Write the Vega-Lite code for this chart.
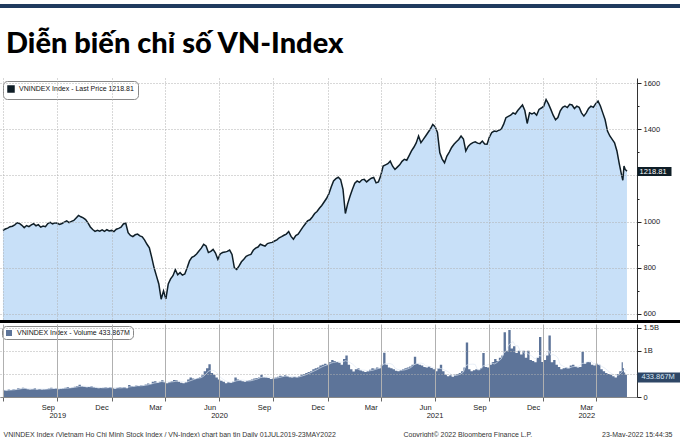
{
  "$schema": "https://vega.github.io/schema/vega-lite/v6.json",
  "padding": {"left": 0, "top": 4, "right": 0, "bottom": 0},
  "autosize": {"type": "pad"},
  "background": "#ffffff",
  "config": {
    "view": {"stroke": null},
    "font": "Liberation Sans, sans-serif",
    "axis": {"labelFont": "Liberation Sans, sans-serif", "titleFont": "Liberation Sans, sans-serif", "labelFontSize": 7.5, "labelColor": "#222222", "titleFontSize": 7, "titleFontWeight": "normal", "titleColor": "#333333"},
    "legend": {"labelFont": "Liberation Sans, sans-serif", "labelFontSize": 7, "labelColor": "#111111"}
  },
  "datasets": {
    "px": [
      {"d":"2019-07-01","p":962,"v":150},{"d":"2019-07-05","p":968,"v":140},{"d":"2019-07-09","p":972,"v":160},{"d":"2019-07-13","p":978,"v":150},
      {"d":"2019-07-17","p":980,"v":170},{"d":"2019-07-21","p":986,"v":165},{"d":"2019-07-25","p":995,"v":190},{"d":"2019-07-29","p":992,"v":180},
      {"d":"2019-08-02","p":984,"v":200},{"d":"2019-08-06","p":974,"v":190},{"d":"2019-08-10","p":983,"v":170},{"d":"2019-08-14","p":978,"v":160},
      {"d":"2019-08-18","p":986,"v":170},{"d":"2019-08-22","p":991,"v":190},{"d":"2019-08-26","p":982,"v":165},{"d":"2019-08-30","p":987,"v":175},
      {"d":"2019-09-03","p":976,"v":160},{"d":"2019-09-07","p":981,"v":170},{"d":"2019-09-11","p":978,"v":175},{"d":"2019-09-15","p":992,"v":185},
      {"d":"2019-09-19","p":997,"v":200},{"d":"2019-09-23","p":990,"v":180},{"d":"2019-09-27","p":995,"v":190},{"d":"2019-10-01","p":993,"v":170},
      {"d":"2019-10-05","p":988,"v":180},{"d":"2019-10-09","p":992,"v":190},{"d":"2019-10-13","p":998,"v":200},{"d":"2019-10-17","p":1003,"v":215},
      {"d":"2019-10-21","p":996,"v":195},{"d":"2019-10-25","p":1001,"v":205},{"d":"2019-10-29","p":1005,"v":220},{"d":"2019-11-02","p":1016,"v":240},
      {"d":"2019-11-06","p":1027,"v":265},{"d":"2019-11-10","p":1021,"v":230},{"d":"2019-11-14","p":1016,"v":220},{"d":"2019-11-18","p":1009,"v":210},
      {"d":"2019-11-22","p":995,"v":215},{"d":"2019-11-26","p":977,"v":230},{"d":"2019-11-30","p":966,"v":210},{"d":"2019-12-04","p":958,"v":200},
      {"d":"2019-12-08","p":962,"v":190},{"d":"2019-12-12","p":959,"v":195},{"d":"2019-12-16","p":964,"v":200},{"d":"2019-12-20","p":958,"v":210},
      {"d":"2019-12-24","p":965,"v":200},{"d":"2019-12-28","p":960,"v":215},{"d":"2020-01-01","p":962,"v":190},{"d":"2020-01-05","p":957,"v":180},
      {"d":"2020-01-09","p":967,"v":200},{"d":"2020-01-13","p":971,"v":210},{"d":"2020-01-17","p":976,"v":205},{"d":"2020-01-21","p":990,"v":215},
      {"d":"2020-01-25","p":993,"v":190},{"d":"2020-01-29","p":952,"v":260},{"d":"2020-02-02","p":940,"v":240},{"d":"2020-02-06","p":935,"v":230},
      {"d":"2020-02-10","p":943,"v":250},{"d":"2020-02-14","p":946,"v":240},{"d":"2020-02-18","p":938,"v":255},{"d":"2020-02-22","p":934,"v":250},
      {"d":"2020-02-26","p":920,"v":270},{"d":"2020-03-01","p":902,"v":290},{"d":"2020-03-05","p":887,"v":280},{"d":"2020-03-09","p":845,"v":330},
      {"d":"2020-03-13","p":800,"v":340},{"d":"2020-03-17","p":765,"v":310},{"d":"2020-03-21","p":730,"v":330},{"d":"2020-03-25","p":664,"v":360},
      {"d":"2020-03-29","p":700,"v":320},{"d":"2020-04-02","p":665,"v":300},{"d":"2020-04-06","p":730,"v":320},{"d":"2020-04-10","p":752,"v":340},
      {"d":"2020-04-14","p":766,"v":370},{"d":"2020-04-18","p":792,"v":360},{"d":"2020-04-22","p":770,"v":330},{"d":"2020-04-26","p":779,"v":310},
      {"d":"2020-04-30","p":768,"v":300},{"d":"2020-05-04","p":773,"v":320},{"d":"2020-05-08","p":800,"v":380},{"d":"2020-05-12","p":830,"v":420},
      {"d":"2020-05-16","p":845,"v":400},{"d":"2020-05-20","p":851,"v":390},{"d":"2020-05-24","p":860,"v":410},{"d":"2020-05-28","p":873,"v":430},
      {"d":"2020-06-01","p":885,"v":470},{"d":"2020-06-05","p":902,"v":560},{"d":"2020-06-09","p":895,"v":620},{"d":"2020-06-13","p":866,"v":710},
      {"d":"2020-06-17","p":871,"v":520},{"d":"2020-06-21","p":880,"v":480},{"d":"2020-06-25","p":864,"v":420},{"d":"2020-06-29","p":837,"v":380},
      {"d":"2020-07-03","p":860,"v":350},{"d":"2020-07-07","p":866,"v":330},{"d":"2020-07-11","p":868,"v":300},{"d":"2020-07-15","p":871,"v":320},
      {"d":"2020-07-19","p":877,"v":310},{"d":"2020-07-23","p":858,"v":330},{"d":"2020-07-27","p":800,"v":420},{"d":"2020-07-31","p":793,"v":380},
      {"d":"2020-08-04","p":808,"v":360},{"d":"2020-08-08","p":826,"v":340},{"d":"2020-08-12","p":837,"v":330},{"d":"2020-08-16","p":850,"v":350},
      {"d":"2020-08-20","p":855,"v":360},{"d":"2020-08-24","p":858,"v":380},{"d":"2020-08-28","p":876,"v":400},{"d":"2020-09-01","p":885,"v":410},
      {"d":"2020-09-05","p":890,"v":420},{"d":"2020-09-09","p":902,"v":480},{"d":"2020-09-13","p":898,"v":430},{"d":"2020-09-17","p":894,"v":420},
      {"d":"2020-09-21","p":905,"v":410},{"d":"2020-09-25","p":908,"v":390},{"d":"2020-09-29","p":910,"v":400},{"d":"2020-10-03","p":916,"v":420},
      {"d":"2020-10-07","p":921,"v":440},{"d":"2020-10-11","p":930,"v":460},{"d":"2020-10-15","p":935,"v":450},{"d":"2020-10-19","p":941,"v":470},
      {"d":"2020-10-23","p":946,"v":450},{"d":"2020-10-27","p":957,"v":430},{"d":"2020-10-31","p":936,"v":420},{"d":"2020-11-04","p":924,"v":440},
      {"d":"2020-11-08","p":940,"v":430},{"d":"2020-11-12","p":946,"v":450},{"d":"2020-11-16","p":961,"v":480},{"d":"2020-11-20","p":976,"v":500},
      {"d":"2020-11-24","p":990,"v":520},{"d":"2020-11-28","p":1003,"v":540},{"d":"2020-12-02","p":1008,"v":560},{"d":"2020-12-06","p":1020,"v":600},
      {"d":"2020-12-10","p":1035,"v":620},{"d":"2020-12-14","p":1044,"v":640},{"d":"2020-12-18","p":1058,"v":680},{"d":"2020-12-22","p":1070,"v":700},
      {"d":"2020-12-26","p":1085,"v":720},{"d":"2020-12-30","p":1100,"v":700},{"d":"2021-01-03","p":1120,"v":750},{"d":"2021-01-07","p":1150,"v":800},
      {"d":"2021-01-11","p":1176,"v":780},{"d":"2021-01-15","p":1186,"v":760},{"d":"2021-01-19","p":1192,"v":740},{"d":"2021-01-23","p":1182,"v":700},
      {"d":"2021-01-27","p":1140,"v":820},{"d":"2021-01-31","p":1035,"v":900},{"d":"2021-02-04","p":1078,"v":700},{"d":"2021-02-08","p":1111,"v":600},
      {"d":"2021-02-12","p":1140,"v":550},{"d":"2021-02-16","p":1166,"v":600},{"d":"2021-02-20","p":1176,"v":620},{"d":"2021-02-24","p":1170,"v":580},
      {"d":"2021-02-28","p":1181,"v":560},{"d":"2021-03-04","p":1183,"v":540},{"d":"2021-03-08","p":1172,"v":560},{"d":"2021-03-12","p":1181,"v":590},
      {"d":"2021-03-16","p":1188,"v":620},{"d":"2021-03-20","p":1191,"v":610},{"d":"2021-03-24","p":1168,"v":640},{"d":"2021-03-28","p":1172,"v":620},
      {"d":"2021-04-01","p":1200,"v":700},{"d":"2021-04-05","p":1241,"v":960},{"d":"2021-04-09","p":1246,"v":700},{"d":"2021-04-13","p":1251,"v":640},
      {"d":"2021-04-17","p":1262,"v":620},{"d":"2021-04-21","p":1240,"v":600},{"d":"2021-04-25","p":1226,"v":570},{"d":"2021-04-29","p":1236,"v":560},
      {"d":"2021-05-03","p":1246,"v":580},{"d":"2021-05-07","p":1261,"v":600},{"d":"2021-05-11","p":1270,"v":620},{"d":"2021-05-15","p":1266,"v":640},
      {"d":"2021-05-19","p":1286,"v":660},{"d":"2021-05-23","p":1306,"v":700},{"d":"2021-05-27","p":1322,"v":870},{"d":"2021-05-31","p":1341,"v":720},
      {"d":"2021-06-04","p":1371,"v":700},{"d":"2021-06-08","p":1342,"v":680},{"d":"2021-06-12","p":1356,"v":650},{"d":"2021-06-16","p":1371,"v":640},
      {"d":"2021-06-20","p":1386,"v":660},{"d":"2021-06-24","p":1401,"v":630},{"d":"2021-06-28","p":1421,"v":600},{"d":"2021-07-02","p":1411,"v":560},
      {"d":"2021-07-06","p":1386,"v":620},{"d":"2021-07-10","p":1298,"v":700},{"d":"2021-07-14","p":1271,"v":560},{"d":"2021-07-18","p":1255,"v":480},
      {"d":"2021-07-22","p":1284,"v":450},{"d":"2021-07-26","p":1301,"v":470},{"d":"2021-07-30","p":1321,"v":440},{"d":"2021-08-03","p":1335,"v":480},
      {"d":"2021-08-07","p":1346,"v":500},{"d":"2021-08-11","p":1356,"v":520},{"d":"2021-08-15","p":1371,"v":560},{"d":"2021-08-19","p":1358,"v":640},
      {"d":"2021-08-23","p":1306,"v":1180},{"d":"2021-08-27","p":1326,"v":600},{"d":"2021-08-31","p":1336,"v":560},{"d":"2021-09-04","p":1342,"v":580},
      {"d":"2021-09-08","p":1346,"v":600},{"d":"2021-09-12","p":1340,"v":590},{"d":"2021-09-16","p":1338,"v":620},{"d":"2021-09-20","p":1349,"v":950},
      {"d":"2021-09-24","p":1336,"v":650},{"d":"2021-09-28","p":1335,"v":640},{"d":"2021-10-02","p":1366,"v":700},{"d":"2021-10-06","p":1386,"v":760},
      {"d":"2021-10-10","p":1392,"v":820},{"d":"2021-10-14","p":1390,"v":780},{"d":"2021-10-18","p":1396,"v":850},{"d":"2021-10-22","p":1400,"v":900},
      {"d":"2021-10-26","p":1421,"v":1400},{"d":"2021-10-30","p":1450,"v":1000},{"d":"2021-11-03","p":1456,"v":1450},{"d":"2021-11-07","p":1461,"v":1050},
      {"d":"2021-11-11","p":1471,"v":1100},{"d":"2021-11-15","p":1466,"v":950},{"d":"2021-11-19","p":1481,"v":1000},{"d":"2021-11-23","p":1493,"v":920},
      {"d":"2021-11-27","p":1505,"v":1000},{"d":"2021-12-01","p":1481,"v":850},{"d":"2021-12-05","p":1425,"v":1000},{"d":"2021-12-09","p":1471,"v":800},
      {"d":"2021-12-13","p":1466,"v":780},{"d":"2021-12-17","p":1472,"v":750},{"d":"2021-12-21","p":1461,"v":850},{"d":"2021-12-25","p":1486,"v":1300},
      {"d":"2021-12-29","p":1492,"v":760},{"d":"2022-01-02","p":1500,"v":800},{"d":"2022-01-06","p":1529,"v":900},{"d":"2022-01-10","p":1510,"v":1330},
      {"d":"2022-01-14","p":1486,"v":750},{"d":"2022-01-18","p":1461,"v":800},{"d":"2022-01-22","p":1441,"v":700},{"d":"2022-01-26","p":1451,"v":650},
      {"d":"2022-01-30","p":1480,"v":600},{"d":"2022-02-03","p":1495,"v":620},{"d":"2022-02-07","p":1500,"v":640},{"d":"2022-02-11","p":1494,"v":620},
      {"d":"2022-02-15","p":1508,"v":680},{"d":"2022-02-19","p":1505,"v":700},{"d":"2022-02-23","p":1490,"v":660},{"d":"2022-02-27","p":1500,"v":640},
      {"d":"2022-03-03","p":1495,"v":650},{"d":"2022-03-07","p":1471,"v":980},{"d":"2022-03-11","p":1457,"v":720},{"d":"2022-03-15","p":1471,"v":760},
      {"d":"2022-03-19","p":1490,"v":750},{"d":"2022-03-23","p":1500,"v":700},{"d":"2022-03-27","p":1495,"v":680},{"d":"2022-03-31","p":1511,"v":720},
      {"d":"2022-04-04","p":1522,"v":700},{"d":"2022-04-08","p":1501,"v":600},{"d":"2022-04-12","p":1471,"v":560},{"d":"2022-04-16","p":1441,"v":520},
      {"d":"2022-04-20","p":1392,"v":500},{"d":"2022-04-24","p":1371,"v":480},{"d":"2022-04-28","p":1356,"v":450},{"d":"2022-05-02","p":1341,"v":420},
      {"d":"2022-05-06","p":1306,"v":500},{"d":"2022-05-10","p":1250,"v":560},{"d":"2022-05-14","p":1200,"v":750},{"d":"2022-05-16","p":1179,"v":620},
      {"d":"2022-05-18","p":1241,"v":530},{"d":"2022-05-20","p":1226,"v":480},{"d":"2022-05-23","p":1218.81,"v":433.867}
    ],
    "last": [{"d":"2022-05-23","p":1218.81,"v":433.867}]
  },
  "spacing": 22,
  "vconcat": [
    {
      "width": 680, "height": 4,
      "view": {"fill": "#1f3a5e", "stroke": null},
      "data": {"values": []},
      "mark": "rect",
      "encoding": {}
    },
    {
      "spacing": 0,
      "resolve": {"scale": {"color": "independent", "x": "independent", "y": "independent"}, "legend": {"color": "independent"}, "axis": {"x": "independent", "y": "independent"}},
      "vconcat": [
        {
          "width": 637, "height": 242,
          "title": {"text": "Diễn biến chỉ số VN-Index", "anchor": "start", "dx": 6, "offset": 19, "font": "Lato, Liberation Sans, sans-serif", "fontSize": 29, "fontWeight": 900, "color": "#000000"},
          "resolve": {"axis": {"x": "independent", "y": "independent"}},
          "layer": [
            {
              "data": {"name": "px"},
              "mark": {"type": "area", "color": "#c8e0f8", "clip": true},
              "encoding": {
                "x": {"field": "d", "type": "temporal",
                  "scale": {"domain": [{"year": 2019, "month": 6, "date": 26}, {"year": 2022, "month": 6, "date": 9}], "nice": false},
                  "axis": {"orient": "bottom", "values": [{"year":2019,"month":7,"date":1},{"year":2019,"month":10,"date":1},{"year":2020,"month":1,"date":1},{"year":2020,"month":4,"date":1},{"year":2020,"month":7,"date":1},{"year":2020,"month":10,"date":1},{"year":2021,"month":1,"date":1},{"year":2021,"month":4,"date":1},{"year":2021,"month":7,"date":1},{"year":2021,"month":10,"date":1},{"year":2022,"month":1,"date":1},{"year":2022,"month":4,"date":1}],
                    "grid": true, "gridColor": "#b0b0b0", "gridDash": [1, 2], "ticks": false, "labels": false, "domain": false, "title": null, "zindex": 1}},
                "y": {"field": "p", "type": "quantitative",
                  "scale": {"domain": [574, 1622], "zero": false, "nice": false},
                  "axis": {"orient": "right", "values": [600, 800, 1000, 1200, 1400, 1600], "labelExpr": "datum.value == 1200 ? '' : format(datum.value, 'd')", "grid": true, "gridColor": "#b0b0b0", "gridDash": [1, 2], "tickSize": 4, "tickColor": "#222222", "domainColor": "#333333", "labelPadding": 2, "title": null, "zindex": 1}}
              }
            },
            {
              "data": {"name": "px"},
              "mark": {"type": "line", "strokeWidth": 1.5, "clip": true},
              "encoding": {
                "x": {"field": "d", "type": "temporal", "axis": null},
                "y": {"field": "p", "type": "quantitative",
                  "axis": {"orient": "right", "values": [700, 900, 1100, 1300, 1500], "labels": false, "grid": false, "domain": false, "tickSize": 2, "tickColor": "#222222", "title": null}},
                "color": {"datum": "VNINDEX Index - Last Price 1218.81", "scale": {"range": ["#0f1e27"]},
                  "legend": {"title": null, "orient": "top-left", "offset": 3, "symbolType": "square", "symbolSize": 36, "strokeColor": "#888888", "fillColor": "#ffffff", "cornerRadius": 4, "padding": 4,
                    "encode": {"symbols": {"update": {"fill": {"value": "#0f1e27"}, "stroke": {"value": "#0f1e27"}}}}}}
              }
            },
            {
              "data": {"name": "last"},
              "mark": {"type": "point", "opacity": 0},
              "encoding": {
                "x": {"field": "d", "type": "temporal", "axis": null},
                "y": {"field": "p", "type": "quantitative",
                  "axis": {"orient": "right", "values": [1218.81], "labelExpr": "'1218.81'", "grid": false, "domain": false, "tickSize": 34, "tickWidth": 9, "tickColor": "#0f1e27", "labelColor": "#ffffff", "labelPadding": -32, "labelAlign": "left", "title": null, "zindex": 2}}
              }
            }
          ]
        },
        {
          "width": 680, "height": 3,
          "view": {"fill": "#000000", "stroke": null},
          "data": {"values": []},
          "mark": "rect",
          "encoding": {}
        },
        {
          "width": 637, "height": 73,
          "resolve": {"axis": {"x": "independent", "y": "independent"}},
          "layer": [
            {
              "data": {"name": "px"},
              "mark": {"type": "area", "interpolate": "step-after", "clip": true},
              "encoding": {
                "x": {"field": "d", "type": "temporal",
                  "scale": {"domain": [{"year": 2019, "month": 6, "date": 26}, {"year": 2022, "month": 6, "date": 9}], "nice": false},
                  "axis": {"orient": "bottom", "values": [{"year":2019,"month":7,"date":1},{"year":2019,"month":10,"date":1},{"year":2020,"month":1,"date":1},{"year":2020,"month":4,"date":1},{"year":2020,"month":7,"date":1},{"year":2020,"month":10,"date":1},{"year":2021,"month":1,"date":1},{"year":2021,"month":4,"date":1},{"year":2021,"month":7,"date":1},{"year":2021,"month":10,"date":1},{"year":2022,"month":1,"date":1},{"year":2022,"month":4,"date":1}],
                    "grid": true, "gridColor": "#b0b0b0", "ticks": true, "tickSize": 4, "tickColor": "#666666", "labels": false, "domain": true, "domainColor": "#888888",
                    "title": "23-May-2022 15:44:35", "titleX": 672, "titleY": 37, "titleAlign": "right", "titleBaseline": "middle", "zindex": 1}},
                "y": {"field": "v", "type": "quantitative",
                  "scale": {"domain": [0, 1580], "nice": false},
                  "axis": {"orient": "right", "values": [0, 500, 1000, 1500], "labelExpr": "datum.value == 0 ? '0' : datum.value == 1000 ? '1B' : datum.value == 1500 ? '1.5B' : ''", "grid": true, "gridColor": "#b0b0b0", "gridDash": [1, 2], "tickSize": 4, "tickColor": "#222222", "domainColor": "#333333", "labelPadding": 2, "title": null, "zindex": 1}},
                "color": {"datum": "VNINDEX Index - Volume 433.867M", "scale": {"range": ["#5d7499"]},
                  "legend": {"title": null, "orient": "top-left", "offset": 2, "symbolType": "square", "symbolSize": 36, "strokeColor": "#888888", "fillColor": "#ffffff", "cornerRadius": 4, "padding": 3}}
              }
            },
            {
              "data": {"name": "px"},
              "transform": [{"window": [{"op": "mean", "field": "v", "as": "ma"}], "frame": [-4, 0], "sort": [{"field": "d"}]}],
              "mark": {"type": "line", "color": "#dfe8f3", "strokeWidth": 0.8, "opacity": 0.85, "clip": true},
              "encoding": {
                "x": {"field": "d", "type": "temporal",
                  "axis": {"orient": "bottom", "values": [{"year":2019,"month":9,"date":15},{"year":2019,"month":12,"date":15},{"year":2020,"month":3,"date":15},{"year":2020,"month":6,"date":15},{"year":2020,"month":9,"date":15},{"year":2020,"month":12,"date":15},{"year":2021,"month":3,"date":15},{"year":2021,"month":6,"date":15},{"year":2021,"month":9,"date":15},{"year":2021,"month":12,"date":15},{"year":2022,"month":3,"date":15}],
                    "labelExpr": "timeFormat(datum.value, '%b')", "ticks": false, "domain": false, "grid": false, "labelPadding": 6, "labelOverlap": false, "labelFlush": false,
                    "title": "VNINDEX Index (Vietnam Ho Chi Minh Stock Index / VN-Index) chart ban tin  Daily 01JUL2019-23MAY2022", "titleX": 3, "titleY": 37, "titleAlign": "left", "titleBaseline": "middle"}},
                "y": {"field": "ma", "type": "quantitative", "axis": null}
              }
            },
            {
              "data": {"name": "last"},
              "mark": {"type": "point", "opacity": 0},
              "encoding": {
                "x": {"field": "d", "type": "temporal",
                  "axis": {"orient": "bottom", "values": [{"year":2019,"month":10,"date":1},{"year":2020,"month":7,"date":1},{"year":2021,"month":7,"date":1},{"year":2022,"month":3,"date":15}],
                    "labelExpr": "timeFormat(datum.value, '%Y')", "ticks": false, "domain": false, "grid": false, "labelPadding": 14, "labelOverlap": false, "labelFlush": false,
                    "title": "Copyright© 2022 Bloomberg Finance L.P.", "titleX": 403, "titleY": 37, "titleAlign": "left", "titleBaseline": "middle"}},
                "y": {"field": "v", "type": "quantitative",
                  "axis": {"orient": "right", "values": [433.867], "labelExpr": "'433.867M'", "grid": false, "domain": false, "tickSize": 43, "tickWidth": 10, "tickColor": "#2f4766", "labelColor": "#d6e4f2", "labelPadding": -39, "labelAlign": "left", "title": null, "zindex": 2}}
              }
            }
          ]
        }
      ]
    }
  ]
}
